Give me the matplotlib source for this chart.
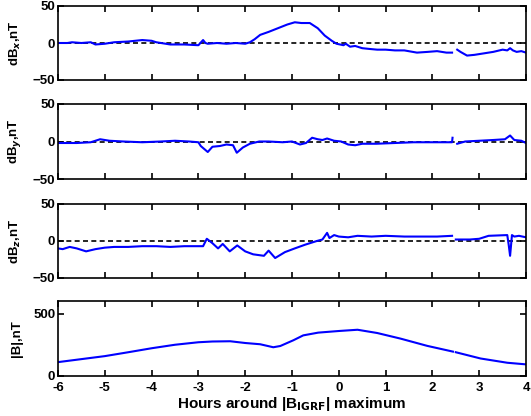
import numpy as np
import matplotlib
matplotlib.use("Agg")
import matplotlib.pyplot as plt

plt.rcParams['font.family'] = ['Liberation Sans', 'DejaVu Sans']
plt.rcParams['font.weight'] = 'bold'

nan = np.nan

# dBx (nT)
bx_t = [-6.0, -5.8, -5.7, -5.5, -5.3, -5.2, -5.0, -4.8, -4.5, -4.2, -4.0, -3.9, -3.6, -3.3, -3.0, -2.9, -2.85,
        -2.8, -2.6, -2.4, -2.2, -2.0, -1.9, -1.8, -1.68, -1.5, -1.3, -1.1, -0.94, -0.8, -0.62, -0.45,
        -0.3, -0.15, -0.05, 0.1, 0.15, 0.24, 0.35, 0.5, 0.65, 0.82, 1.0, 1.2, 1.4, 1.67, 1.9, 2.1, 2.3, 2.42,
        2.45, 2.53, 2.6, 2.74, 2.9, 3.1, 3.3, 3.5, 3.6, 3.66, 3.72, 3.8, 3.9, 4.0]
bx_v = [0, 0, 1, 0, 1, -2, -1, 1, 2, 4, 3, 1, -2, -2, -3, 4, 0,
        -1, 0, -1, 0, -1, 1, 5, 11, 15, 20, 25, 28, 27, 27, 20,
        10, 3, -1, -3, -1, -5, -4, -7, -8, -9, -9, -10, -10, -13, -12, -11, -13, -13,
        nan, -9, -12, -17, -16, -14, -12, -9, -10, -7, -10, -12, -11, -13]

# dBy (nT)
by_t = [-6.0, -5.6, -5.3, -5.1, -4.9, -4.6, -4.2, -3.8, -3.5, -3.2, -3.0, -2.95, -2.8, -2.7, -2.54,
        -2.4, -2.26, -2.18, -2.05, -1.9, -1.7, -1.5, -1.2, -1.0, -0.83, -0.7, -0.57, -0.45, -0.35, -0.25,
        -0.1, 0.05, 0.2, 0.35, 0.5, 0.8, 1.2, 1.6, 2.0, 2.3, 2.42, 2.43, 2.45, 2.53, 2.7, 3.0, 3.3, 3.55,
        3.66, 3.75, 3.9, 4.0]
by_v = [-2, -2, -1, 3, 1, 0, -1, 0, 1, 0, -1, -6, -14, -7, -6,
        -4, -5, -15, -8, -3, 0, 0, -1, 0, -4, -2, 5, 3, 2, 4,
        1, 0, -4, -5, -3, -3, -2, -1, -1, -1, -1, 5, nan, -3, 0, 1, 2, 3,
        8, 2, 1, -2]

# dBz (nT)
bz_t = [-6.0, -5.9, -5.75, -5.6, -5.4, -5.2, -5.0, -4.8, -4.5, -4.2, -3.9, -3.6, -3.3, -3.0, -2.9,
        -2.82, -2.7, -2.58, -2.48, -2.33, -2.17, -2.0, -1.83, -1.6, -1.5, -1.36, -1.15, -0.94, -0.72,
        -0.47, -0.35, -0.25, -0.2, -0.1, 0.0, 0.2, 0.4, 0.7, 1.0, 1.4, 1.8, 2.1, 2.42,
        2.45, 2.5, 2.8, 3.0, 3.2, 3.6, 3.63, 3.66, 3.7, 3.75, 3.85, 4.0]
bz_v = [-10, -11, -8, -10, -14, -11, -9, -8, -8, -7, -7, -8, -7, -7, -7,
        3, -3, -10, -4, -14, -6, -14, -18, -20, -13, -23, -15, -10, -5,
        0, 2, 11, 4, 8, 6, 5, 7, 6, 7, 6, 6, 6, 7,
        nan, 2, 2, 3, 7, 8, -5, -20, 8, 6, 7, 5]

# |B| (nT)
b_t = [-6.0, -5.5, -5.0, -4.5, -4.0, -3.5, -3.0, -2.7, -2.32, -2.0, -1.68, -1.4, -1.25, -0.97, -0.76,
       -0.44, 0.0, 0.4, 0.82, 1.32, 1.89, 2.44, 2.47, 2.5, 3.03, 3.6, 4.0]
b_v = [111, 135, 159, 190, 222, 250, 270, 276, 278, 264, 254, 230, 240, 286, 325,
       347, 360, 370, 344, 299, 241, 195, nan, 190, 140, 106, 93]

ylabels = [r'dB$_x$,nT', r'dB$_y$,nT', r'dB$_z$,nT', r'|B|,nT']
xticks = [-6, -5, -4, -3, -2, -1, 0, 1, 2, 3, 4]

fig = plt.figure(figsize=(5.31, 4.16), dpi=100)
W, H = 531, 416
left, right = 58, 526
panels = [(6, 80), (104, 179), (204, 278), (301, 376)]
series = [(bx_t, bx_v), (by_t, by_v), (bz_t, bz_v), (b_t, b_v)]

for i, ((top, bot), (t, v)) in enumerate(zip(panels, series)):
    ax = fig.add_axes([left / W, 1 - bot / H, (right - left) / W, (bot - top) / H])
    ax.plot(t, v, color='#0000ff', lw=1.5)
    ax.set_xlim(-6, 4)
    ax.set_xticks(xticks)
    if i < 3:
        ax.axhline(0, color='black', ls='--', lw=1.2, dashes=(3, 2), zorder=1)
        ax.set_ylim(-50, 50)
        ax.set_yticks([-50, 0, 50])
        ax.set_xticklabels([])
    else:
        ax.set_ylim(0, 600)
        ax.set_yticks([0, 500])
        ax.set_xticklabels([str(x) for x in xticks])
        ax.set_xlabel(r'Hours around |B$_{\mathbf{IGRF}}$| maximum', fontsize=11, fontweight='bold', labelpad=1)
    ax.tick_params(direction='in', top=True, right=True, length=4, width=1.2,
                   labelsize=9.5, pad=2)
    ax.tick_params(axis='x', pad=4)
    for lab in ax.get_xticklabels() + ax.get_yticklabels():
        lab.set_fontweight('bold')
    for s in ax.spines.values():
        s.set_linewidth(1.2)
    ax.set_ylabel(ylabels[i], fontsize=9.5, fontweight='bold', labelpad=2)
    ax.yaxis.set_label_coords(-0.075, 0.5)

fig.savefig('out.png', dpi=100)
